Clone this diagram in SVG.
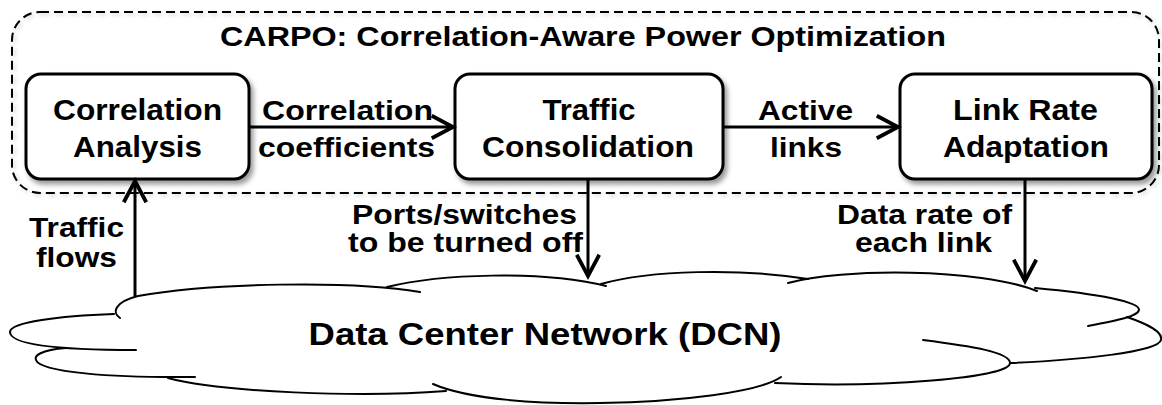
<svg xmlns="http://www.w3.org/2000/svg" width="1162" height="405" viewBox="0 0 1162 405">
<defs>
<filter id="sh" x="-10%" y="-10%" width="125%" height="135%">
<feDropShadow dx="3" dy="4" stdDeviation="2.5" flood-color="#000" flood-opacity="0.4"/>
</filter>
<filter id="shl" x="-5%" y="-10%" width="110%" height="130%">
<feDropShadow dx="2" dy="2" stdDeviation="2" flood-color="#000" flood-opacity="0.2"/>
</filter>
<marker id="arr" markerUnits="userSpaceOnUse" markerWidth="30" markerHeight="30" viewBox="-20 -12 24 24" refX="0" refY="0" orient="auto">
<path d="M-17,-9 L0,0 L-17,9" fill="none" stroke="#000" stroke-width="3" stroke-linejoin="miter"/>
</marker>
<style>
text{font-family:"Liberation Sans",Arial,Helvetica,sans-serif;font-weight:bold;fill:#000;text-anchor:middle}
.t{font-size:29px}
.l{font-size:28px}
.s{font-size:27px}
.ti{font-size:27px}
.dcn{font-size:32px}
.box{fill:#fff;stroke:#000;stroke-width:3}
.con{fill:none;stroke:#000;stroke-width:3}
.cl{fill:none;stroke:#000;stroke-width:2;stroke-linecap:round}
</style>
</defs>
<rect width="1162" height="405" fill="#fff"/>
<g id="container">
<rect x="12" y="12" width="1147" height="181" rx="28" fill="none" stroke="#000" stroke-width="2" stroke-dasharray="9,5" filter="url(#shl)"/>
<text class="ti" x="583" y="46" textLength="726" lengthAdjust="spacingAndGlyphs">CARPO: Correlation-Aware Power Optimization</text>
</g>
<g id="dcn">
<path class="cl" d="M120,318 C112,313 114,302 138,296 C210,283 350,280 420,292"/>
<path class="cl" d="M387,287 C440,274 540,270 606,286"/>
<path class="cl" d="M601,284 C650,270 740,268 808,279"/>
<path class="cl" d="M788,283 C840,268 980,268 1037,291"/>
<path class="cl" d="M1035,288 C1100,294 1140,302 1139,310 C1138,316 1120,320 1088,326"/>
<path class="cl" d="M1127,317 C1150,325 1163,332 1161,340 C1158,352 1080,360 1010,363"/>
<path class="cl" d="M923,340 C970,346 1010,352 1010,363 C1010,378 880,388 775,383"/>
<path class="cl" d="M433,384 C470,400 540,404 600,403 C680,402 760,392 781,377"/>
<path class="cl" d="M168,378 C220,392 360,398 446,391"/>
<path class="cl" d="M66,348 C40,350 34,356 36,360 C40,372 110,378 195,377"/>
<path class="cl" d="M114,314 C60,316 10,322 10,332 C10,345 60,350 136,350"/>
<text class="dcn" x="545" y="345" textLength="473" lengthAdjust="spacingAndGlyphs">Data Center Network (DCN)</text>
</g>
<g id="correlation-analysis">
<rect class="box" x="26" y="74" width="223" height="105" rx="15" filter="url(#sh)"/>
<text class="t" x="137.5" y="120" textLength="169" lengthAdjust="spacingAndGlyphs">Correlation</text>
<text class="t" x="137.5" y="157" textLength="129" lengthAdjust="spacingAndGlyphs">Analysis</text>
</g>
<g id="traffic-consolidation">
<rect class="box" x="455" y="74" width="268" height="105" rx="15" filter="url(#sh)"/>
<text class="t" x="589" y="120" textLength="93" lengthAdjust="spacingAndGlyphs">Traffic</text>
<text class="t" x="588" y="157" textLength="212" lengthAdjust="spacingAndGlyphs">Consolidation</text>
</g>
<g id="link-rate-adaptation">
<rect class="box" x="900" y="74" width="252" height="105" rx="15" filter="url(#sh)"/>
<text class="t" x="1025.5" y="120" textLength="145" lengthAdjust="spacingAndGlyphs">Link Rate</text>
<text class="t" x="1026" y="157" textLength="166" lengthAdjust="spacingAndGlyphs">Adaptation</text>
</g>
<g id="connectors">
<line class="con" x1="249" y1="127" x2="453" y2="127" marker-end="url(#arr)"/>
<line class="con" x1="723" y1="127" x2="898" y2="127" marker-end="url(#arr)"/>
<line class="con" x1="135" y1="296" x2="135" y2="181" marker-end="url(#arr)"/>
<line class="con" x1="588" y1="179" x2="588" y2="276" marker-end="url(#arr)"/>
<line class="con" x1="1025" y1="179" x2="1025" y2="281" marker-end="url(#arr)"/>
<text class="l" x="347.5" y="120" textLength="171" lengthAdjust="spacingAndGlyphs">Correlation</text>
<text class="l" x="346.5" y="157" textLength="177" lengthAdjust="spacingAndGlyphs">coefficients</text>
<text class="l" x="805.5" y="120" textLength="95" lengthAdjust="spacingAndGlyphs">Active</text>
<text class="l" x="806" y="157" textLength="72" lengthAdjust="spacingAndGlyphs">links</text>
<text class="l" x="76.5" y="237" textLength="95" lengthAdjust="spacingAndGlyphs">Traffic</text>
<text class="l" x="76.5" y="267" textLength="81" lengthAdjust="spacingAndGlyphs">flows</text>
<text class="s" x="464.5" y="224" textLength="225" lengthAdjust="spacingAndGlyphs">Ports/switches</text>
<text class="s" x="465.5" y="252" textLength="235" lengthAdjust="spacingAndGlyphs">to be turned off</text>
<text class="s" x="924.5" y="224" textLength="175" lengthAdjust="spacingAndGlyphs">Data rate of</text>
<text class="s" x="923.5" y="252" textLength="137" lengthAdjust="spacingAndGlyphs">each link</text>
</g>
</svg>
